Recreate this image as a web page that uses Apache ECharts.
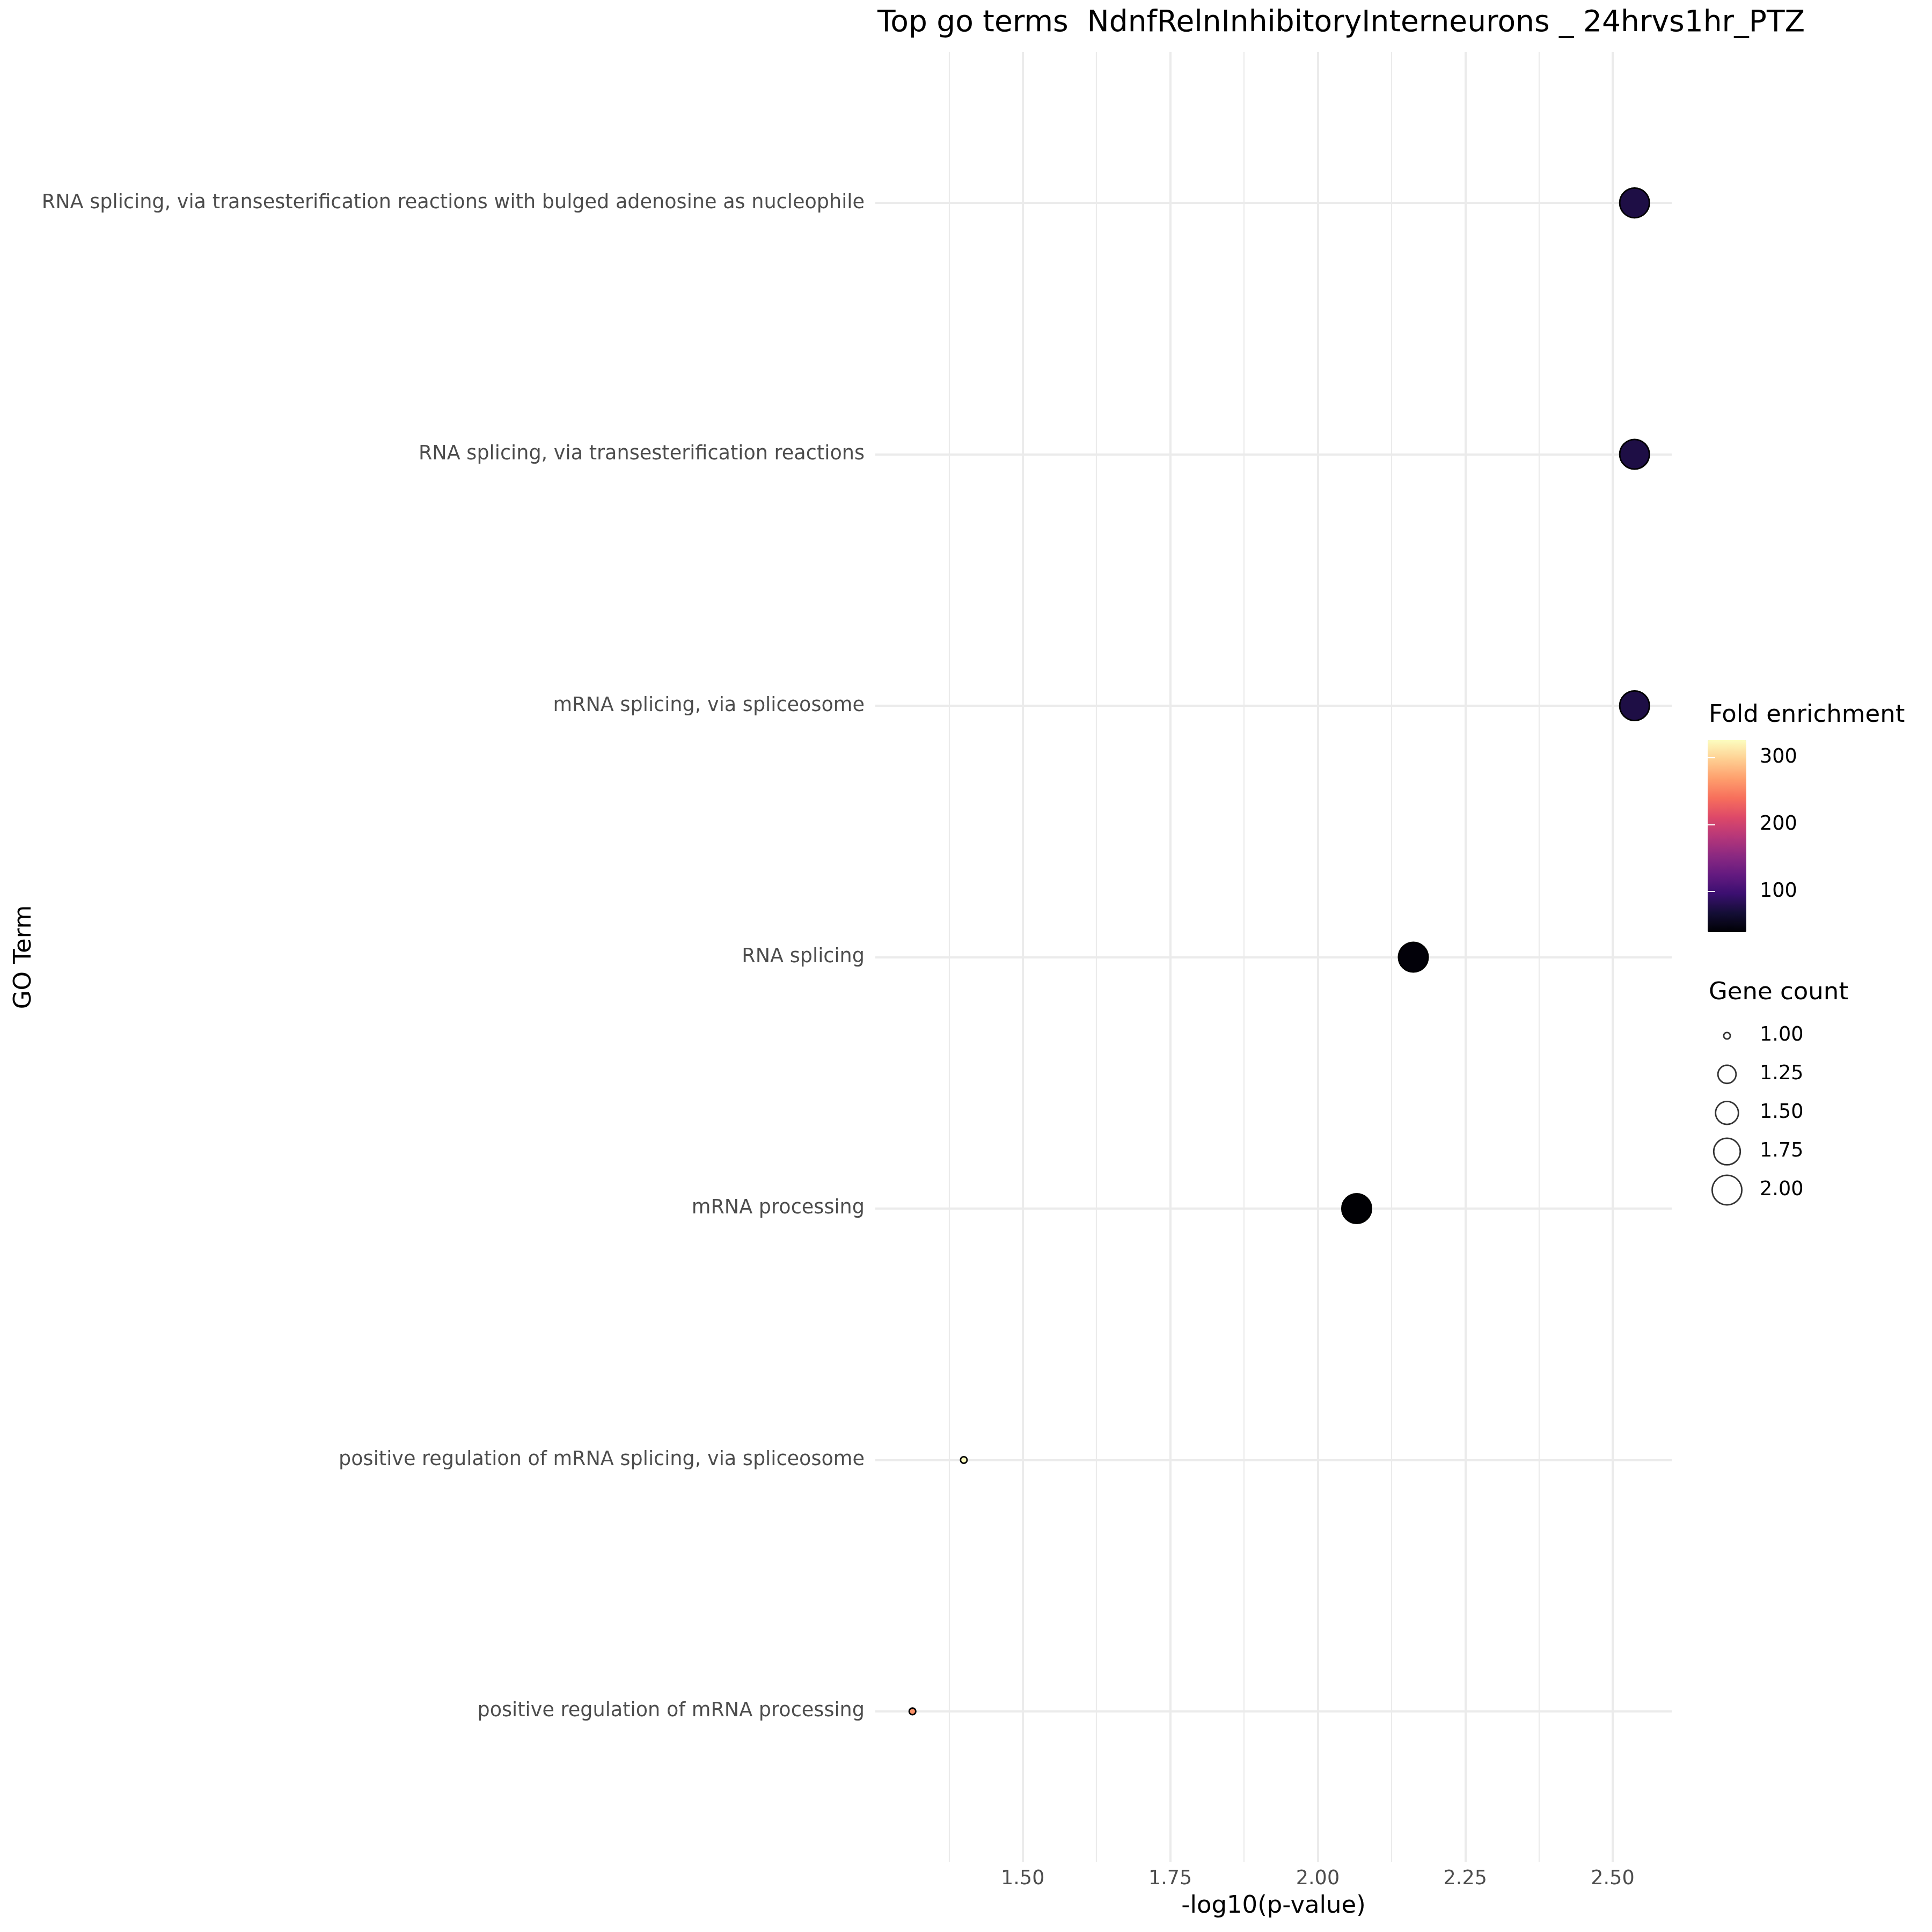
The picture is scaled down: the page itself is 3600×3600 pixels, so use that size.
<!DOCTYPE html>
<html>
<head>
<meta charset="utf-8">
<script src="https://cdn.jsdelivr.net/npm/echarts@6/dist/echarts.min.js"></script>
<style>
html, body { margin: 0; padding: 0; background: #ffffff; }
#chart { width: 3600px; height: 3600px; }
</style>
</head>
<body>
<div id="chart"></div>
<script>
// ---------- data ----------
const chartTitle = 'Top go terms  NdnfRelnInhibitoryInterneurons _ 24hrvs1hr_PTZ';
const goTerms = [
  'RNA splicing, via transesterification reactions with bulged adenosine as nucleophile',
  'RNA splicing, via transesterification reactions',
  'mRNA splicing, via spliceosome',
  'RNA splicing',
  'mRNA processing',
  'positive regulation of mRNA splicing, via spliceosome',
  'positive regulation of mRNA processing'
];
const negLog10P = [2.537, 2.537, 2.537, 2.162, 2.066, 1.400, 1.313];
const foldEnrichment = [75, 75, 75, 42, 39, 326.5, 261];
const geneCount = [2, 2, 2, 2, 2, 1, 1];
const xTickStep = 0.25;
const colorbarTicks = [100, 200, 300];
const sizeBreaks = [1.00, 1.25, 1.50, 1.75, 2.00];

// ---------- styles ----------
const FONT = 'DejaVu Sans';
const magma = ['#000004', '#140e36', '#3b0f70', '#641a80', '#8c2981', '#b73779',
               '#de4968', '#f7705c', '#fe9f6d', '#fecf92', '#fcfdbf'];
const gridColor = '#ebebeb';
const TXT = 36.6;

const countMin = Math.min(...geneCount), countMax = Math.max(...geneCount);
const feMin = Math.min(...foldEnrichment), feMax = Math.max(...foldEnrichment);
function pointSize(c) {
  const t = (c - countMin) / (countMax - countMin);
  const s = 1 + 5 * Math.sqrt(Math.max(0, t));
  return 8.6 * s + 6.5 - 2.8;
}

const mainData = goTerms.map((t, i) => [negLog10P[i], t, foldEnrichment[i], geneCount[i]]);
const sizeCats = sizeBreaks.map(v => v.toFixed(2));
const sizeData = sizeBreaks.map((v, i) => [0.5, sizeCats[i], v]);

// plot panel geometry
const PL = 1631, PW = 1484, PT = 97, PB = 3470;
const nCat = goTerms.length;
const band = (PB - PT) / (nCat + 0.2);
const XMIN = 1.25, XMAX = 2.6;

const chart = echarts.init(document.getElementById('chart'), null, { renderer: 'canvas' });
const option = {
  backgroundColor: '#ffffff',
  animation: false,
  textStyle: { fontFamily: FONT },
  title: [
    { text: chartTitle, left: 1635, top: 16, padding: 0,
      textStyle: { fontFamily: FONT, fontSize: 55, fontWeight: 'normal', color: '#000000' } },
    { text: 'Fold enrichment', left: 3184, top: 1311, padding: 0,
      textStyle: { fontFamily: FONT, fontSize: 45, fontWeight: 'normal', color: '#000000' } },
    { text: 'Gene count', left: 3184, top: 1828, padding: 0,
      textStyle: { fontFamily: FONT, fontSize: 45, fontWeight: 'normal', color: '#000000' } }
  ],
  grid: [
    { left: PL, width: PW, top: PT, height: PB - PT, containLabel: false },
    { left: PL, width: PW, top: PT + 0.1 * band, height: nCat * band, containLabel: false },
    { left: 3182, width: 72, top: 1894, height: 359.5, containLabel: false },
    { left: 3182, width: 72, top: 1379, height: 358, containLabel: false }
  ],
  xAxis: [
    { type: 'value', gridIndex: 0, min: XMIN, max: XMAX, interval: xTickStep,
      axisLine: { show: false }, axisTick: { show: false },
      minorTick: { show: false, splitNumber: 2 },
      axisLabel: { show: true, color: '#4d4d4d', fontSize: TXT, fontFamily: FONT, margin: 13,
                   showMinLabel: false, showMaxLabel: false,
                   formatter: v => v.toFixed(2) },
      splitLine: { show: true, showMinLine: false, showMaxLine: false,
                   lineStyle: { color: gridColor, width: 4 } },
      minorSplitLine: { show: true, lineStyle: { color: gridColor, width: 2.2 } },
      name: '-log10(p-value)', nameLocation: 'middle', nameGap: 60,
      nameTextStyle: { fontFamily: FONT, fontSize: 45, color: '#000000' } },
    { type: 'value', gridIndex: 1, min: XMIN, max: XMAX, show: false },
    { type: 'value', gridIndex: 2, min: 0, max: 1, show: false },
    { type: 'value', gridIndex: 3, min: 0, max: 1, show: false }
  ],
  yAxis: [
    { type: 'value', gridIndex: 0, show: false },
    { type: 'category', gridIndex: 1, data: goTerms, inverse: true,
      axisLine: { show: false }, axisTick: { show: false }, splitLine: { show: false },
      axisLabel: { color: '#4d4d4d', fontSize: TXT, fontFamily: FONT, margin: 20 },
      name: 'GO Term', nameLocation: 'middle', nameRotate: 90, nameGap: 1563,
      nameTextStyle: { fontFamily: FONT, fontSize: 45, color: '#000000' } },
    { type: 'category', gridIndex: 2, data: sizeCats, inverse: true, position: 'right',
      axisLine: { show: false }, axisTick: { show: false }, splitLine: { show: false },
      axisLabel: { color: '#000000', fontSize: TXT, fontFamily: FONT, margin: 25 } },
    { type: 'value', gridIndex: 3, min: feMin, max: feMax, position: 'right', z: 10,
      axisLine: { show: false }, splitLine: { show: false },
      axisTick: { show: true, inside: true, length: 14, customValues: colorbarTicks,
                  lineStyle: { color: '#ffffff', width: 2 } },
      axisLabel: { show: true, customValues: colorbarTicks, color: '#000000',
                   fontSize: TXT, fontFamily: FONT, margin: 25 } },
    { type: 'value', gridIndex: 3, min: feMin, max: feMax, position: 'left', z: 10,
      axisLine: { show: false }, splitLine: { show: false },
      axisTick: { show: true, inside: true, length: 14, customValues: colorbarTicks,
                  lineStyle: { color: '#ffffff', width: 2 } },
      axisLabel: { show: false } }
  ],
  visualMap: [{
    type: 'continuous', seriesIndex: 1, dimension: 2,
    min: feMin, max: feMax, calculable: false, realtime: false,
    left: 3182, top: 1379, itemWidth: 72, itemHeight: 358, padding: 0,
    text: null, showLabel: false, hoverLink: false,
    inRange: { color: magma }, z: 4
  }],
  series: [
    { type: 'scatter', xAxisIndex: 1, yAxisIndex: 1, data: [], z: 1, silent: true,
      markLine: {
        silent: true, symbol: ['none', 'none'], label: { show: false },
        lineStyle: { color: gridColor, width: 4, type: 'solid' },
        emphasis: { disabled: true },
        data: goTerms.map(t => ({ yAxis: t }))
      } },
    { type: 'scatter', xAxisIndex: 1, yAxisIndex: 1, data: mainData, z: 5,
      encode: { x: 0, y: 1 },
      symbol: 'circle',
      symbolSize: v => pointSize(v[3]),
      itemStyle: { borderColor: '#000000', borderWidth: 2.8, opacity: 1 } },
    { type: 'scatter', xAxisIndex: 2, yAxisIndex: 2, data: sizeData, z: 5,
      encode: { x: 0, y: 1 },
      symbol: 'circle',
      symbolSize: v => pointSize(v[2]),
      itemStyle: { color: '#ffffff', borderColor: '#000000', borderWidth: 2.8 } }
  ]
};
chart.setOption(option);
</script>
</body>
</html>
